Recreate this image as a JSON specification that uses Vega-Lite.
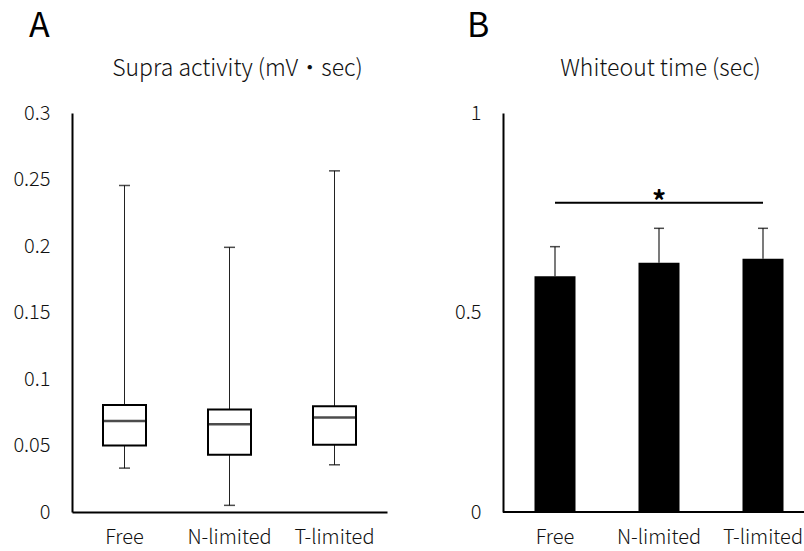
{
  "$schema": "https://vega.github.io/schema/vega-lite/v6.json",
  "background": "white",
  "padding": {"left": 12, "top": 10, "right": 0, "bottom": 0},
  "spacing": 67,
  "config": {
    "font": "Noto Sans CJK JP",
    "view": {"stroke": null},
    "axis": {
      "grid": false,
      "ticks": false,
      "domainColor": "#000",
      "domainWidth": 2,
      "labelColor": "#111",
      "labelFont": "Noto Sans CJK JP",
      "labelFontWeight": 300,
      "labelFontSize": 20,
      "titleFont": "Noto Sans CJK JP",
      "titleFontWeight": 300,
      "titleFontSize": 23,
      "titleColor": "#111"
    },
    "title": {"font": "Noto Sans CJK JP", "fontWeight": 400, "fontSize": 34, "color": "#000", "anchor": "start", "frame": "group"}
  },
  "datasets": {
    "supra": [
      {"group": "Free", "min": 0.033, "q1": 0.050, "median": 0.0685, "q3": 0.0805, "max": 0.2455},
      {"group": "N-limited", "min": 0.005, "q1": 0.043, "median": 0.066, "q3": 0.077, "max": 0.199},
      {"group": "T-limited", "min": 0.0355, "q1": 0.0505, "median": 0.071, "q3": 0.0795, "max": 0.2565}
    ],
    "whiteout": [
      {"group": "Free", "mean": 0.591, "upper": 0.665},
      {"group": "N-limited", "mean": 0.625, "upper": 0.711},
      {"group": "T-limited", "mean": 0.635, "upper": 0.711}
    ],
    "sig": [
      {"from": "Free", "to": "T-limited", "mid": "N-limited", "y": 0.775, "label": "*"}
    ]
  },
  "hconcat": [
    {
      "width": 315,
      "height": 399,
      "title": {"text": "A", "offset": 13, "dx": -43},
      "data": {"name": "supra"},
      "encoding": {
        "x": {
          "field": "group", "type": "nominal",
          "scale": {"domain": ["Free", "N-limited", "T-limited"], "paddingInner": 0, "paddingOuter": 0},
          "axis": {"title": null, "labelAngle": 0, "labelPadding": 15}
        }
      },
      "layer": [
        {
          "mark": {"type": "rule", "color": "#222", "strokeWidth": 1},
          "encoding": {
            "y": {
              "field": "q3", "type": "quantitative", "title": "Supra activity (mV・sec)",
              "scale": {"domain": [0, 0.3]},
              "axis": {
                "values": [0, 0.05, 0.1, 0.15, 0.2, 0.25, 0.3],
                "format": ".2~f",
                "labelPadding": 22,
                "titleAngle": 0, "titleX": 165, "titleY": -38,
                "titleAlign": "center", "titleBaseline": "alphabetic"
              }
            },
            "y2": {"field": "max"}
          }
        },
        {
          "mark": {"type": "rule", "color": "#222", "strokeWidth": 1},
          "encoding": {
            "y": {"field": "min", "type": "quantitative", "title": "Supra activity (mV・sec)"},
            "y2": {"field": "q1"}
          }
        },
        {
          "mark": {"type": "tick", "size": 11, "thickness": 1.5, "color": "#000"},
          "encoding": {"y": {"field": "max", "type": "quantitative", "title": "Supra activity (mV・sec)"}}
        },
        {
          "mark": {"type": "tick", "size": 11, "thickness": 1.5, "color": "#000"},
          "encoding": {"y": {"field": "min", "type": "quantitative", "title": "Supra activity (mV・sec)"}}
        },
        {
          "mark": {"type": "bar", "size": 43, "fill": "white", "stroke": "#000", "strokeWidth": 2},
          "encoding": {
            "y": {"field": "q1", "type": "quantitative", "title": "Supra activity (mV・sec)"},
            "y2": {"field": "q3"}
          }
        },
        {
          "mark": {"type": "tick", "size": 43, "thickness": 2.5, "color": "#000"},
          "encoding": {"y": {"field": "median", "type": "quantitative", "title": "Supra activity (mV・sec)"}}
        }
      ]
    },
    {
      "width": 302,
      "height": 399,
      "title": {"text": "B", "offset": 13, "dx": -36},
      "layer": [
        {
          "data": {"name": "whiteout"},
          "mark": {"type": "rule", "color": "#222", "strokeWidth": 1.2},
          "encoding": {
            "x": {
              "field": "group", "type": "nominal",
              "scale": {"domain": ["Free", "N-limited", "T-limited"], "range": [0, 312], "paddingInner": 0, "paddingOuter": 0},
              "axis": {"title": null, "labelAngle": 0, "labelPadding": 15, "domain": false}
            },
            "y": {
              "field": "mean", "type": "quantitative", "title": "Whiteout time (sec)",
              "scale": {"domain": [0, 1]},
              "axis": {
                "values": [0, 0.5, 1],
                "format": "~g",
                "labelPadding": 22,
                "titleAngle": 0, "titleX": 157, "titleY": -38,
                "titleAlign": "center", "titleBaseline": "alphabetic"
              }
            },
            "y2": {"field": "upper"}
          }
        },
        {
          "data": {"name": "whiteout"},
          "mark": {"type": "tick", "size": 10, "thickness": 1.5, "color": "#000"},
          "encoding": {
            "x": {"field": "group", "type": "nominal"},
            "y": {"field": "upper", "type": "quantitative", "title": "Whiteout time (sec)"}
          }
        },
        {
          "data": {"name": "whiteout"},
          "mark": {"type": "bar", "size": 41, "color": "#000"},
          "encoding": {
            "x": {"field": "group", "type": "nominal"},
            "y": {"field": "mean", "type": "quantitative", "title": "Whiteout time (sec)"}
          }
        },
        {
          "data": {"name": "sig"},
          "mark": {"type": "rule", "color": "#000", "strokeWidth": 2},
          "encoding": {
            "y": {"datum": 0, "type": "quantitative", "title": "Whiteout time (sec)"}
          }
        },
        {
          "data": {"name": "sig"},
          "mark": {"type": "rule", "color": "#000", "strokeWidth": 2},
          "encoding": {
            "x": {"field": "from", "type": "nominal"},
            "x2": {"field": "to"},
            "y": {"field": "y", "type": "quantitative", "title": "Whiteout time (sec)"}
          }
        },
        {
          "data": {"name": "sig"},
          "mark": {"type": "text", "fontSize": 28, "fontWeight": 700, "baseline": "alphabetic", "dy": 9, "color": "#000"},
          "encoding": {
            "x": {"field": "mid", "type": "nominal"},
            "y": {"field": "y", "type": "quantitative", "title": "Whiteout time (sec)"},
            "text": {"field": "label"}
          }
        }
      ]
    }
  ]
}
